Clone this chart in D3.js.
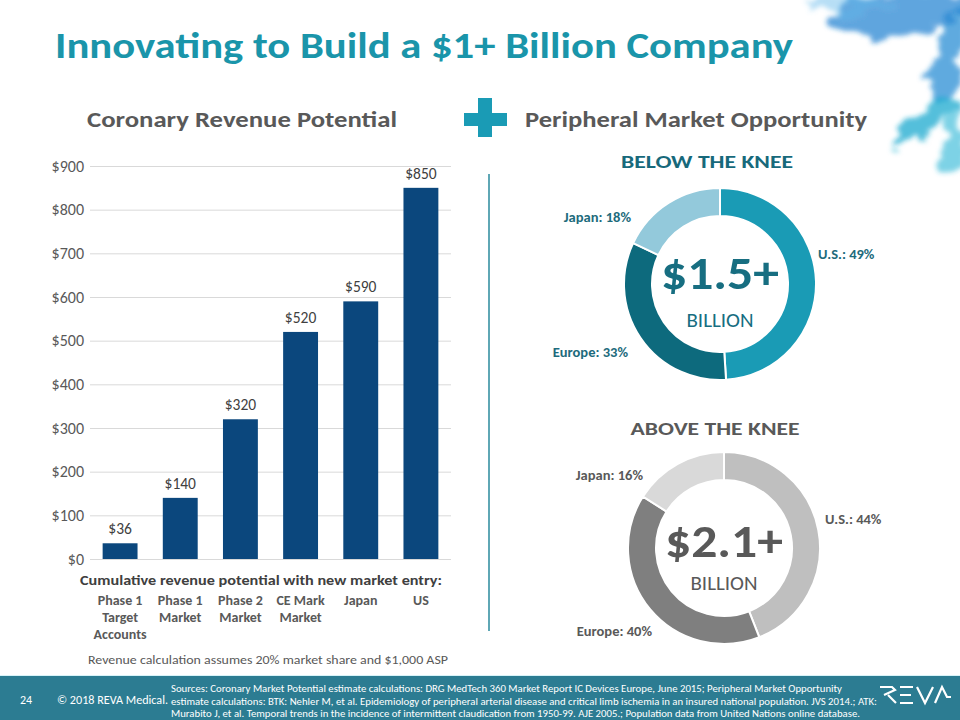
<!DOCTYPE html>
<html>
<head>
<meta charset="utf-8">
<script src="https://cdn.jsdelivr.net/npm/d3@7"></script>
<style>
  html, body { margin: 0; padding: 0; background: #fff; }
  svg { display: block; }
  text { font-family: Carlito, Lato, "Open Sans", sans-serif; }
</style>
</head>
<body>
<svg id="chart" width="960" height="720"></svg>
<script>
// ---------- DATA ----------
const categories = [
  ["Phase 1", "Target", "Accounts"],
  ["Phase 1", "Market"],
  ["Phase 2", "Market"],
  ["CE Mark", "Market"],
  ["Japan"],
  ["US"]
];
const revenues = [36, 140, 320, 520, 590, 850];
const yTicks = [0, 100, 200, 300, 400, 500, 600, 700, 800, 900];

const regions = ["U.S.", "Europe", "Japan"];
const belowKneeShares = [49, 33, 18];
const aboveKneeShares = [44, 40, 16];

const titleText = "Innovating to Build a $1+ Billion Company";
const sourceLines = [
  "Sources: Coronary Market Potential estimate calculations: DRG MedTech 360 Market Report IC Devices Europe, June 2015; Peripheral Market Opportunity",
  "estimate calculations: BTK: Nehler M, et al. Epidemiology of peripheral arterial disease and critical limb ischemia in an insured national population. JVS 2014.; ATK:",
  "Murabito J, et al. Temporal trends in the incidence of intermittent claudication from 1950-99. AJE 2005.; Population data from United Nations online database."
];

// ---------- SETUP ----------
const svg = d3.select("#chart");
const defs = svg.append("defs");

// decorative smoke (top-right)
const f = defs.append("filter").attr("id", "smoke")
  .attr("x", "-50%").attr("y", "-50%").attr("width", "200%").attr("height", "200%");
f.append("feTurbulence").attr("type", "fractalNoise").attr("baseFrequency", "0.03 0.05")
  .attr("numOctaves", 3).attr("seed", 7).attr("result", "noise");
f.append("feDisplacementMap").attr("in", "SourceGraphic").attr("in2", "noise")
  .attr("scale", 36).attr("xChannelSelector", "R").attr("yChannelSelector", "G").attr("result", "disp");
f.append("feGaussianBlur").attr("in", "disp").attr("stdDeviation", 2.5);

const smoke = svg.append("g").attr("filter", "url(#smoke)");
const blobs = [
  {cx: 905, cy: 12, rx: 80, ry: 20, rot: -8, c: "#1f7fd0", o: 0.7},
  {cx: 850, cy: 4, rx: 45, ry: 8, rot: 5, c: "#5db6e8", o: 0.45},
  {cx: 948, cy: 60, rx: 14, ry: 50, rot: 10, c: "#1f86d2", o: 0.7},
  {cx: 925, cy: 122, rx: 40, ry: 12, rot: -35, c: "#18a9cf", o: 0.75},
  {cx: 952, cy: 145, rx: 12, ry: 28, rot: 0, c: "#2ab4d6", o: 0.6}
];
smoke.selectAll("ellipse").data(blobs).join("ellipse")
  .attr("cx", d => d.cx).attr("cy", d => d.cy).attr("rx", d => d.rx).attr("ry", d => d.ry)
  .attr("transform", d => `rotate(${d.rot},${d.cx},${d.cy})`)
  .attr("fill", d => d.c).attr("opacity", d => d.o);

// ---------- TITLES ----------
svg.append("text").attr("x", 55).attr("y", 58)
  .attr("font-size", 36).attr("font-weight", 700).attr("fill", "#1a95aa")
  .attr("textLength", 738).attr("lengthAdjust", "spacingAndGlyphs")
  .text(titleText);

svg.append("text").attr("x", 87).attr("y", 127)
  .attr("font-size", 23).attr("font-weight", 700).attr("fill", "#595959")
  .attr("textLength", 310).attr("lengthAdjust", "spacingAndGlyphs")
  .text("Coronary Revenue Potential");

svg.append("text").attr("x", 525).attr("y", 127)
  .attr("font-size", 23).attr("font-weight", 700).attr("fill", "#595959")
  .attr("textLength", 342).attr("lengthAdjust", "spacingAndGlyphs")
  .text("Peripheral Market Opportunity");

// plus sign
svg.append("rect").attr("x", 478).attr("y", 98).attr("width", 14).attr("height", 39).attr("fill", "#1a9bb5");
svg.append("rect").attr("x", 464).attr("y", 113).attr("width", 43).attr("height", 13).attr("fill", "#1a9bb5");

// ---------- BAR CHART ----------
const x = d3.scaleBand().domain(d3.range(categories.length)).range([90, 451]).paddingInner(0.42).paddingOuter(0.21);
const y = d3.scaleLinear().domain([0, 900]).range([559, 166]);

const yAxis = svg.append("g").attr("transform", "translate(90,0)")
  .call(d3.axisLeft(y).tickValues(yTicks).tickFormat(d => "$" + d).tickSize(-361).tickPadding(6));
yAxis.select(".domain").remove();
yAxis.selectAll(".tick line").attr("stroke", "#d9d9d9").attr("stroke-width", 1);
yAxis.selectAll(".tick text").attr("fill", "#595959")
  .style("font-size", "16px")
  .style("font-family", "Carlito, Lato, sans-serif");

svg.append("g").selectAll("rect").data(revenues).join("rect")
  .attr("x", (d, i) => x(i)).attr("width", x.bandwidth())
  .attr("y", d => y(d)).attr("height", d => y(0) - y(d))
  .attr("fill", "#0b477d");

svg.append("g").selectAll("text").data(revenues).join("text")
  .attr("x", (d, i) => x(i) + x.bandwidth() / 2).attr("y", d => y(d) - 9)
  .attr("text-anchor", "middle").style("font-size", "15.5px").attr("fill", "#404040")
  .text(d => "$" + d);

svg.append("text").attr("x", 261).attr("y", 585).attr("text-anchor", "middle")
  .attr("font-size", 14).attr("font-weight", 700).attr("fill", "#404040")
  .attr("textLength", 362).attr("lengthAdjust", "spacingAndGlyphs")
  .text("Cumulative revenue potential with new market entry:");

const catG = svg.append("g").selectAll("text").data(categories).join("text")
  .attr("text-anchor", "middle").attr("font-size", 14).attr("font-weight", 700).attr("fill", "#595959");
catG.selectAll("tspan").data((d, i) => d.map(l => ({l, i}))).join("tspan")
  .attr("x", d => x(d.i) + x.bandwidth() / 2)
  .attr("y", (d, j) => 605 + j * 17)
  .text(d => d.l);

svg.append("text").attr("x", 268).attr("y", 664).attr("text-anchor", "middle")
  .attr("font-size", 12.5).attr("fill", "#595959")
  .attr("textLength", 360).attr("lengthAdjust", "spacingAndGlyphs")
  .text("Revenue calculation assumes  20% market share and $1,000 ASP");

// divider
svg.append("line").attr("x1", 489).attr("x2", 489).attr("y1", 174).attr("y2", 631)
  .attr("stroke", "#2a8a9c").attr("stroke-width", 1.5);

// ---------- DONUTS ----------
const pie = d3.pie().sort(null).value(d => d.v);
const arc = d3.arc().innerRadius(68).outerRadius(96);

function donut(cfg) {
  const g = svg.append("g").attr("transform", `translate(${cfg.cx},${cfg.cy})`);
  const data = regions.map((r, i) => ({r, v: cfg.shares[i]}));
  g.selectAll("path").data(pie(data)).join("path")
    .attr("d", arc).attr("fill", (d, i) => cfg.colors[i])
    .attr("stroke", "#fff").attr("stroke-width", 2);

  svg.append("text").attr("x", cfg.hx).attr("y", cfg.hy).attr("text-anchor", "middle")
    .attr("font-size", 19).attr("font-weight", 700).attr("fill", cfg.headColor)
    .attr("textLength", cfg.hw).attr("lengthAdjust", "spacingAndGlyphs")
    .text(cfg.head);

  g.append("text").attr("x", 0).attr("y", cfg.bigY).attr("text-anchor", "middle")
    .attr("font-size", 47).attr("font-weight", 700).attr("fill", cfg.centerColor)
    .attr("textLength", 118).attr("lengthAdjust", "spacingAndGlyphs")
    .text(cfg.big);
  g.append("text").attr("x", 0).attr("y", cfg.bilY).attr("text-anchor", "middle")
    .attr("font-size", 21).attr("fill", cfg.centerColor)
    .text("BILLION");

  g.selectAll("text.lab").data(data).join("text").attr("class", "lab")
    .attr("x", (d, i) => cfg.labelPos[i][0]).attr("y", (d, i) => cfg.labelPos[i][1])
    .attr("text-anchor", (d, i) => cfg.labelPos[i][2])
    .attr("font-size", 14.5).attr("font-weight", 700).attr("fill", cfg.labelColor)
    .text(d => `${d.r}: ${d.v}%`);
}

donut({
  cx: 720, cy: 284, shares: belowKneeShares,
  colors: ["#1a9bb5", "#0d6a7d", "#93c9db"],
  head: "BELOW THE KNEE", hx: 707, hy: 168, hw: 172, headColor: "#17697b",
  big: "$1.5+", bigY: 5, bilY: 43, centerColor: "#176e81",
  labelColor: "#1d6b7c",
  labelPos: [[98, -25, "start"], [-92, 73, "end"], [-89, -62, "end"]]
});

donut({
  cx: 724, cy: 548, shares: aboveKneeShares,
  colors: ["#bfbfbf", "#7f7f7f", "#d9d9d9"],
  head: "ABOVE THE KNEE", hx: 715, hy: 435, hw: 169, headColor: "#595959",
  big: "$2.1+", bigY: 9, bilY: 42, centerColor: "#595959",
  labelColor: "#595959",
  labelPos: [[101, -24, "start"], [-72, 88, "end"], [-81, -68, "end"]]
});

// ---------- FOOTER ----------
svg.append("rect").attr("x", 0).attr("y", 676).attr("width", 960).attr("height", 44).attr("fill", "#2c7c92");
svg.append("line").attr("x1", 0).attr("x2", 960).attr("y1", 675.5).attr("y2", 675.5)
  .attr("stroke", "#d8f3f8").attr("stroke-width", 1);
svg.append("text").attr("x", 20).attr("y", 704).attr("font-size", 12).attr("fill", "#fff").text("24");
svg.append("text").attr("x", 57).attr("y", 704).attr("font-size", 12).attr("fill", "#fff")
  .attr("textLength", 111).attr("lengthAdjust", "spacingAndGlyphs")
  .text("© 2018 REVA Medical.");
const lineEnds = [842, 877, 860];
svg.append("g").selectAll("text").data(sourceLines).join("text")
  .attr("x", 171).attr("y", (d, i) => 692 + i * 12.5)
  .attr("font-size", 10).attr("fill", "#fff")
  .attr("textLength", (d, i) => lineEnds[i] - 171).attr("lengthAdjust", "spacingAndGlyphs")
  .text(d => d);

// REVA logo
const logo = svg.append("g").attr("fill", "none").attr("stroke", "#fff").attr("stroke-width", 2.2)
  .attr("stroke-linejoin", "miter");
logo.append("path").attr("d", "M880,687 H892 L895,690 L884,695 M888,695 L896,703");
logo.append("path").attr("d", "M900,687 H913 M900,695 H911 M900,703 H913");
logo.append("path").attr("d", "M917,687 L925,703 L933,687");
logo.append("path").attr("d", "M935,703 L942,687 L947,697 H951");
</script>
</body>
</html>
